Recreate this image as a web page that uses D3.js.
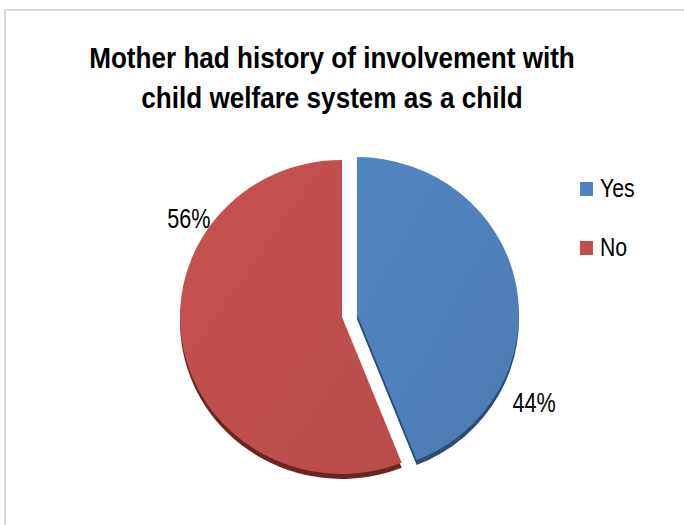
<!DOCTYPE html>
<html>
<head>
<meta charset="utf-8">
<script src="https://cdn.jsdelivr.net/npm/d3@7/dist/d3.min.js"></script>
<style>
  html, body { margin: 0; padding: 0; background: #ffffff; }
  svg { display: block; }
</style>
</head>
<body>
<svg id="chart" width="684" height="525"></svg>
<script>
// ---- data ----
const categories = ["Yes", "No"];
const values = [44, 56];
const labels = ["44%", "56%"];
const titleLines = ["Mother had history of involvement with", "child welfare system as a child"];

const faceColors = ["#4f81bd", "#c0504d"];
const sideColors = ["#2c4d75", "#6b2624"];

const FONT = "'Liberation Sans Narrow', 'Arial Narrow', 'Liberation Sans', Arial, sans-serif";
const NARROW = 0.8;   // horizontal compression to imitate a narrow face
const TITLE_NARROW = 0.9;

const svg = d3.select("#chart");

// chart border (partially visible frame)
svg.append("rect")
  .attr("x", 5).attr("y", 10)
  .attr("width", 700).attr("height", 540)
  .attr("fill", "none")
  .attr("stroke", "#d9d9d9")
  .attr("stroke-width", 2);

// title
svg.append("g")
  .attr("transform", `translate(332,68) scale(${TITLE_NARROW},1)`)
  .append("text")
  .attr("text-anchor", "middle")
  .attr("font-family", FONT)
  .attr("font-weight", "bold")
  .attr("font-size", 29)
  .attr("fill", "#000")
  .selectAll("tspan")
  .data(titleLines)
  .join("tspan")
  .attr("x", 0)
  .attr("dy", (d, i) => i === 0 ? 0 : 40)
  .text(d => d);

// gradients
const defs = svg.append("defs");
faceColors.forEach((c, i) => {
  const g = defs.append("linearGradient")
    .attr("id", "grad" + i)
    .attr("x1", "0%").attr("y1", "0%").attr("x2", "100%").attr("y2", "100%");
  g.append("stop").attr("offset", "0%").attr("stop-color", d3.color(c).brighter(0.08));
  g.append("stop").attr("offset", "100%").attr("stop-color", d3.color(c).darker(0.12));
});

// pie geometry
const cx = 349.5, cy = 315.5;
const rx = 162, ry = 157;
const k = ry / rx;
const explode = 7.6;
const depth = 5;

const pie = d3.pie().sort(null).startAngle(0).endAngle(2 * Math.PI);
const arcs = pie(values);
const arc = d3.arc().innerRadius(0).outerRadius(rx);

function sliceCenter(d) {
  const mid = (d.startAngle + d.endAngle) / 2;
  return [cx + explode * Math.sin(mid), cy - explode * Math.cos(mid) * k];
}

const slices = svg.append("g");

// side (depth) layer
arcs.forEach((d, i) => {
  const [sx, sy] = sliceCenter(d);
  slices.append("path")
    .attr("d", arc(d))
    .attr("transform", `translate(${sx},${sy + depth}) scale(1,${k})`)
    .attr("fill", sideColors[i]);
});
// top faces
arcs.forEach((d, i) => {
  const [sx, sy] = sliceCenter(d);
  slices.append("path")
    .attr("d", arc(d))
    .attr("transform", `translate(${sx},${sy}) scale(1,${k})`)
    .attr("fill", `url(#grad${i})`);
});

// data labels (best-fit placement outside the slices)
const labelFrac = [0.74, 0.72];
const labelR = [1.23, 1.135];
arcs.forEach((d, i) => {
  const [sx, sy] = sliceCenter(d);
  const a = d.startAngle + labelFrac[i] * (d.endAngle - d.startAngle);
  const lx = sx + rx * labelR[i] * Math.sin(a);
  const ly = sy - ry * labelR[i] * Math.cos(a);
  svg.append("g")
    .attr("transform", `translate(${lx},${ly + 10}) scale(${NARROW},1)`)
    .append("text")
    .attr("text-anchor", "middle")
    .attr("font-family", FONT)
    .attr("font-size", 27)
    .attr("fill", "#000")
    .text(labels[i]);
});

// legend
const legend = svg.append("g").attr("transform", "translate(580,182)");
categories.forEach((c, i) => {
  const g = legend.append("g").attr("transform", `translate(0,${i * 59})`);
  g.append("rect").attr("x", 0).attr("y", 0).attr("width", 13).attr("height", 14)
    .attr("fill", faceColors[i]);
  g.append("g")
    .attr("transform", `translate(20,15) scale(${NARROW + 0.05},1)`)
    .append("text")
    .attr("font-family", FONT)
    .attr("font-size", 25)
    .attr("fill", "#000")
    .text(c);
});
</script>
</body>
</html>
